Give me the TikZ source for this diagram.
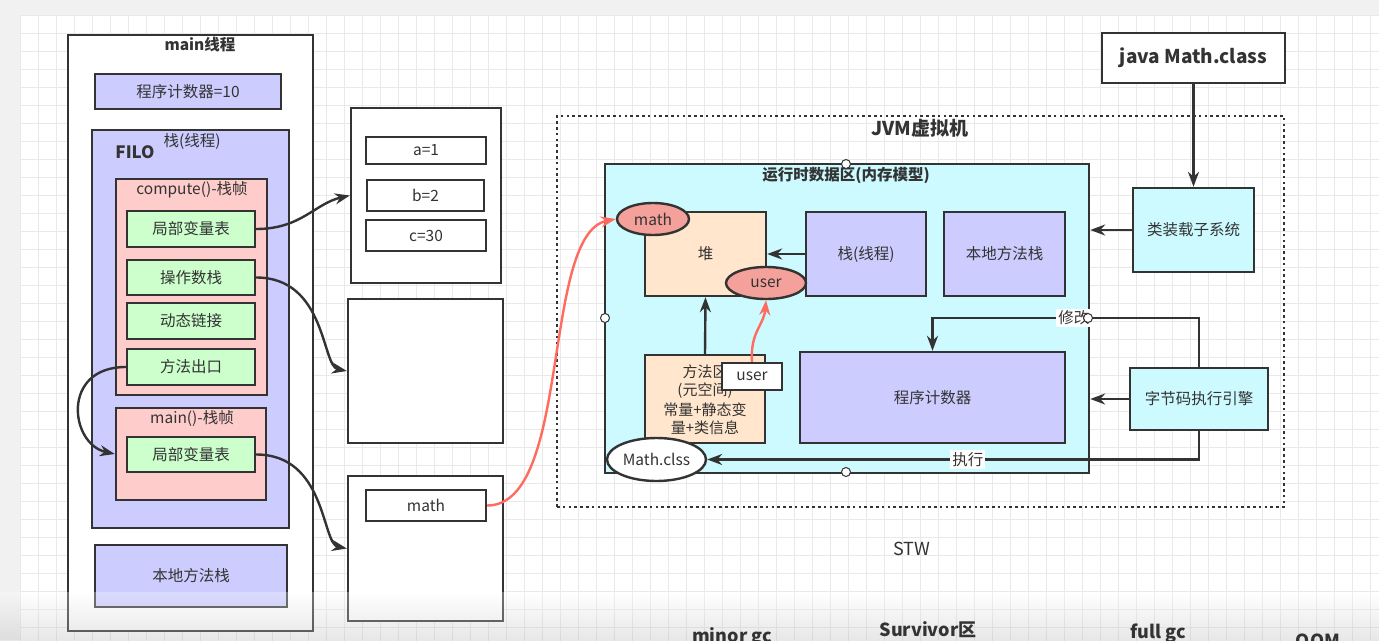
\documentclass[tikz,border=0pt]{standalone}
\usepackage{fontspec}
\setmainfont{Noto Sans CJK SC}
\usetikzlibrary{arrows.meta,shapes.geometric,positioning}

\definecolor{linec}{HTML}{333333}
\definecolor{textc}{HTML}{333333}
\definecolor{bluec}{HTML}{CCCCFF}
\definecolor{pinkc}{HTML}{FFCCCC}
\definecolor{greenc}{HTML}{CCFFCC}
\definecolor{cyanc}{HTML}{CCFAFF}
\definecolor{peachc}{HTML}{FFE6CC}
\definecolor{salmonc}{HTML}{F4A19B}
\definecolor{redc}{HTML}{FF6B5E}
\definecolor{pagec}{HTML}{F1F1F1}
\definecolor{gridc}{HTML}{E9E9E9}

\newcommand{\fs}[1]{\fontsize{#1}{#1}\selectfont}

\begin{document}
\begin{tikzpicture}[x=1pt,y=-1pt,
	box/.style={draw=linec,line width=2.4pt,inner sep=0pt,text=textc,font=\fs{15.5}},
	bluebox/.style={box,fill=bluec},
	pinkbox/.style={box,fill=pinkc},
	greenbox/.style={box,fill=greenc},
	cyanbox/.style={box,fill=cyanc},
	peachbox/.style={box,fill=peachc},
	whitebox/.style={box,fill=white},
	oval/.style={box,ellipse},
	lbl/.style={inner sep=0pt,text=textc,font=\fs{15.5}},
	title/.style={inner sep=0pt,text=textc,font=\bfseries\fs{15.5}},
	arr/.style={draw=linec,line width=2.4pt,-{Stealth[length=15pt,width=11pt]}},
	redarr/.style={draw=redc,line width=2.4pt,-{Stealth[length=15pt,width=11pt]}},
	handle/.style={circle,draw=linec,fill=white,line width=1pt,inner sep=0pt,minimum size=9pt}]
	\useasboundingbox (0,0) rectangle (1379,640);
	\clip (0,0) rectangle (1379,640);

	%background and grid
	\fill[pagec] (0,0) rectangle (1379,640);
	\fill[white] (20,15) rectangle (1379,640);
	\begin{scope}[y=1pt,shift={(20,-15)}]
		\draw[gridc,line width=1pt] (0,-630) grid[step=18] (1365,0);
	\end{scope}

	%main thread
	\node[whitebox,minimum width=245,minimum height=596] (thread) at (190.5,333) {};
	\node[title] (threadt) at (200,45) {main线程};
	\node[bluebox,minimum width=186,minimum height=35] (pc) at (188,91.5) {程序计数器=10};
	\node[bluebox,minimum width=197,minimum height=398] (stack) at (190.5,329) {};
	\node[lbl] (stackt) at (192,141) {栈(线程)};
	\node[title,font=\bfseries\fs{17}] (filo) at (135,152) {FILO};

	%compute() frame
	\node[pinkbox,minimum width=151,minimum height=216] (compute) at (191.5,287) {};
	\node[lbl] (computet) at (192,190) {compute()-栈帧};
	\node[greenbox,minimum width=128,minimum height=36] (locals) at (191,229) {局部变量表};
	\node[greenbox,minimum width=128,minimum height=35] (operand) at (191,277.5) {操作数栈};
	\node[greenbox,minimum width=128,minimum height=36] (dynlink) at (191,321) {动态链接};
	\node[greenbox,minimum width=128,minimum height=36] (retaddr) at (191,367) {方法出口};

	%main() frame
	\node[pinkbox,minimum width=150,minimum height=92] (mainframe) at (191,454) {};
	\node[lbl] (mainframet) at (192,419) {main()-栈帧};
	\node[greenbox,minimum width=128,minimum height=35] (mainlocals) at (191,454.5) {局部变量表};
	\node[bluebox,minimum width=192,minimum height=62] (native) at (191,576) {本地方法栈};

	%values
	\node[whitebox,minimum width=150,minimum height=175] (vals) at (426,195.5) {};
	\node[whitebox,minimum width=120,minimum height=27] (va) at (426,150.5) {a=1};
	\node[whitebox,minimum width=117,minimum height=31] (vb) at (425.5,195.5) {b=2};
	\node[whitebox,minimum width=120,minimum height=31] (vc) at (426,235.5) {c=30};
	\node[whitebox,minimum width=155,minimum height=144] (opbox) at (425.5,371) {};
	\node[whitebox,minimum width=155,minimum height=145] (mainvals) at (425.5,548.5) {};
	\node[whitebox,minimum width=120,minimum height=31] (vmath) at (426,505.5) {math};

	%JVM
	\node[draw=linec,line width=2.6pt,dash pattern=on 2.6pt off 3.2pt,minimum width=727,minimum height=391,inner sep=0pt] (jvm) at (920.5,311.5) {};
	\node[title,font=\bfseries\fs{19}] (jvmt) at (920,128) {JVM虚拟机};
	\node[cyanbox,minimum width=484,minimum height=309] (runtime) at (847,318.5) {};
	\node[title] (runtimet) at (846,175) {运行时数据区(内存模型)};
	\node[peachbox,minimum width=121,minimum height=84] (heap) at (705.5,254) {堆};
	\node[bluebox,minimum width=120,minimum height=84] (jstack) at (866,254) {栈(线程)};
	\node[bluebox,minimum width=121,minimum height=84] (jnative) at (1004.5,254) {本地方法栈};
	\node[peachbox,minimum width=120,minimum height=88,align=center,font=\fs{15},text depth=0pt] (metaspace) at (705,399)
		{方法区\\[3pt](元空间)\\[3pt]常量+静态变\\[3pt]量+类信息};
	\node[bluebox,minimum width=265,minimum height=91] (jpc) at (932.5,397.5) {程序计数器};
	\node[oval,fill=salmonc,minimum width=72,minimum height=32] (hmath) at (653,219) {math};
	\node[oval,fill=salmonc,minimum width=80,minimum height=32] (huser) at (766,283) {user};
	\node[whitebox,minimum width=60,minimum height=27] (muser) at (752,376.5) {user};
	\node[oval,fill=white,minimum width=99,minimum height=43] (mclass) at (656.5,459.5) {Math.clss};
	\node[whitebox,font=\bfseries\fs{19},minimum width=183,minimum height=50] (javacmd) at (1193.5,58) {java Math.class};
	\node[cyanbox,minimum width=121,minimum height=84] (loader) at (1193.5,230) {类装载子系统};
	\node[cyanbox,minimum width=138,minimum height=62] (engine) at (1199,399) {字节码执行引擎};

	%handles
	\node[handle] (h1) at (846,164) {};
	\node[handle] (h2) at (605,318) {};
	\node[handle] (h3) at (846,472) {};

	%arrows
	\draw[arr] (locals.east) .. controls +(45,0) and +(-35,8) .. (vals.west);
	\draw[arr] (operand.east) .. controls +(70,0) and +(-25,-5) .. (opbox.west);
	\draw[arr] (retaddr.west) .. controls +(-65,0) and +(-45,-10) .. (mainframe.west);
	\draw[arr] (mainlocals.east) .. controls +(70,0) and +(-25,-5) .. (mainvals.west);
	\draw[redarr] (vmath.east) .. controls +(85,0) and +(-75,15) .. (hmath.west);
	\draw[redarr] (muser.north) .. controls +(-2,-30) and +(-2,25) .. (huser.south);
	\draw[arr] (jstack.west) -- (heap.east);
	\draw[arr] (metaspace.north) -- (heap.south);
	\draw[arr] (javacmd.south) -- (loader.north);
	\draw[arr] (loader.west) -- (loader.west -| runtime.east);
	\draw[arr] (engine.west) -- (engine.west -| runtime.east);
	\coordinate (turn) at (1199,318);
	\draw[arr] (engine.north) -- (turn) -| node[pos=0.235,fill=white,lbl,inner sep=2pt] (modify) {修改} (jpc.north);
	\node[handle] (h4) at (1088,318) {};
	\draw[arr] (engine.south) |- node[pos=0.735,fill=white,lbl,inner sep=2pt] (exec) {执行} (mclass.east);

	%bottom labels
	\begin{scope}[y=1pt]
		\shade[top color=white,bottom color=black!30,fill opacity=0.3] (0,-592) rectangle (1379,-640);
	\end{scope}
	\node[lbl,font=\fs{18}] (stw) at (912,549) {STW};
	\node[lbl,font=\bfseries\fs{18},anchor=base] (minorgc) at (732,642) {minor gc};
	\node[lbl,font=\bfseries\fs{18},anchor=base] (survivor) at (928,636) {Survivor区};
	\node[lbl,font=\bfseries\fs{18},anchor=base] (fullgc) at (1158,638) {full gc};
	\node[lbl,font=\bfseries\fs{18},anchor=base] (oom) at (1318,647) {OOM};
\end{tikzpicture}
\end{document}
